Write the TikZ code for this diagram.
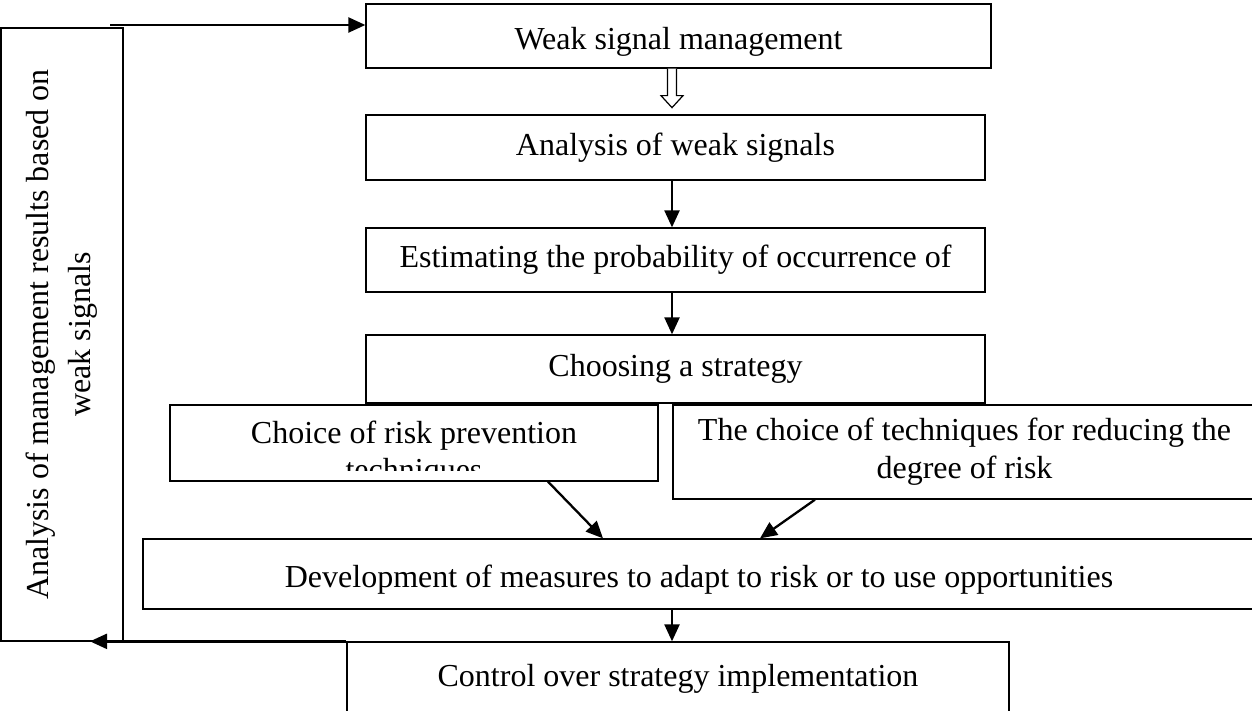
\documentclass[tikz,border=0pt]{standalone}
\usepackage{fontspec}
\setmainfont{Liberation Serif}
\usetikzlibrary{arrows.meta,calc}
\newcommand{\lowertext}[1]{\raisebox{-1pt}[\height][0pt]{#1}}
\begin{document}
\begin{tikzpicture}[x=0.5pt,y=-0.5pt,
  box/.style={draw,line width=0.65pt,fill=white,inner sep=0pt,
    font=\fontsize{16}{19}\selectfont},
  lbl/.style={inner sep=0pt,font=\fontsize{16}{19}\selectfont},
  arr/.style={line width=1.15pt,-{Triangle[length=8.5pt,width=7.5pt]}},
]
\useasboundingbox (0,0) rectangle (1252,711);

% main column
\node[box,minimum width=312.5pt,minimum height=32pt] (wsm) at (678.5,36) {\lowertext{Weak signal management}};
\node[box,minimum width=309.5pt,minimum height=32.5pt] (aws) at (675.5,147.5) {Analysis of weak signals};
\node[box,minimum width=309.5pt,minimum height=32pt] (est) at (675.5,260) {Estimating the probability of occurrence of};
\node[box,minimum width=309.5pt,minimum height=34pt] (cs) at (675.5,369) {Choosing a strategy};

% two technique boxes
\node[box,minimum width=244pt,minimum height=38pt] (crp) at (414,443) {};
\begin{scope}
  \clip (170,405) rectangle (658,470);
  \node[lbl,anchor=base] (crpa) at (414,443) {Choice of risk prevention};
  \node[lbl,anchor=base] (crpb) at (414,480) {techniques};
\end{scope}
\node[box,minimum width=291.5pt,minimum height=47pt,align=center] (ctr) at (964.5,452)
  {The choice of techniques for reducing the\\degree of risk};

\node[box,minimum width=556pt,minimum height=35pt] (dev) at (699,574)
  {\lowertext{Development of measures to adapt to risk or to use opportunities}};
\node[box,minimum width=331pt,minimum height=37pt] (ctl) at (678,679)
  {Control over strategy implementation};

% feedback box
\node[box,rotate=90,minimum width=306.5pt,minimum height=61pt,align=center,
  font=\fontsize{16}{21}\selectfont] (lb) at (62,334.5)
  {Analysis of management results based on\\weak signals};

% connectors
\coordinate (ax) at (672,0);
\coordinate (fb) at (110,25);
\coordinate (fbx) at (90,0);
\coordinate (a1) at (548,0);
\coordinate (a2) at (603,0);
\coordinate (b1) at (815,0);
\coordinate (b2) at (760,0);

\draw[arr] (fb) -- (fb -| wsm.west);

\coordinate (h) at (wsm.south -| ax);
\draw[line width=0.6pt,fill=white] ($(h)+(-4.5,0)$) -- ++(0,27) -- ++(-6.5,0)
  -- ($(h)+(0,39)$) -- ($(h)+(11,27)$) -- ++(-6.5,0) -- ($(h)+(4.5,0)$);

\draw[arr] (aws.south -| ax) -- (est.north -| ax);
\draw[arr] (est.south -| ax) -- (cs.north -| ax);
\draw[arr] (crp.south -| a1) -- (dev.north -| a2);
\draw[arr] (ctr.south -| b1) -- (dev.north -| b2);
\draw[arr] (dev.south -| ax) -- (ctl.north -| ax);
\draw[arr] (ctl.north west) -- (ctl.north west -| fbx);
\end{tikzpicture}
\end{document}
